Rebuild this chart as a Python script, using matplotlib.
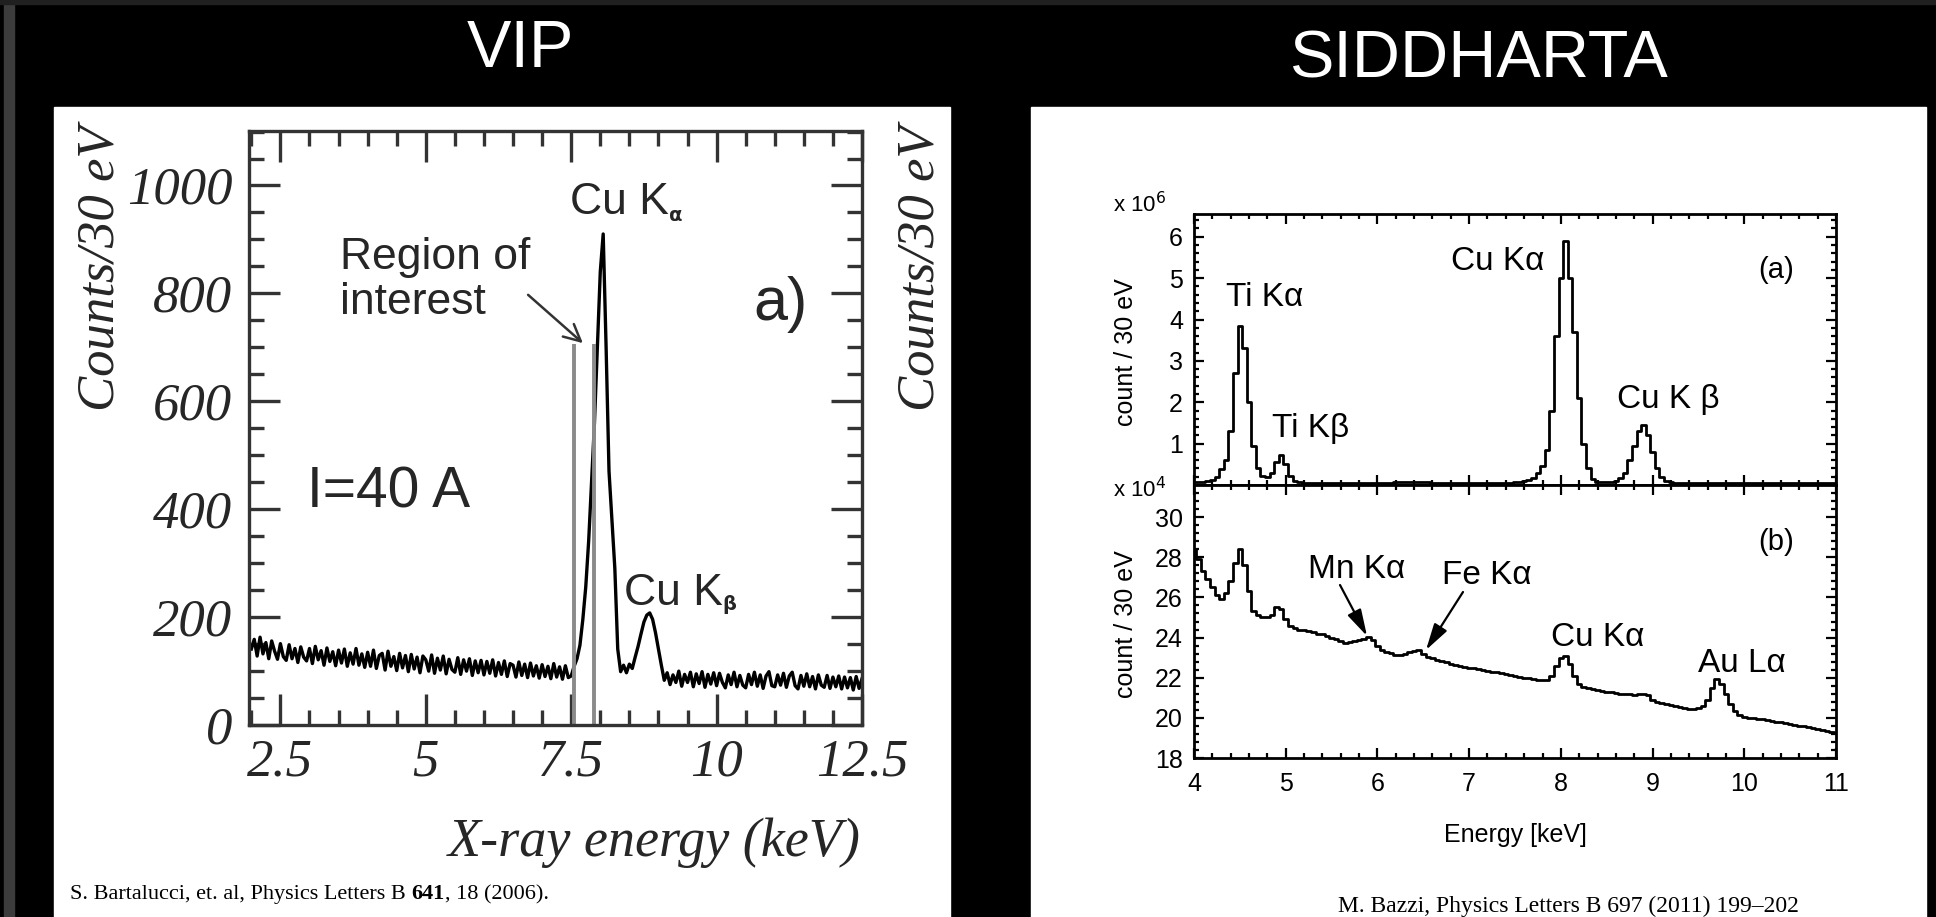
import numpy as np
import matplotlib.pyplot as plt
from matplotlib.patches import Rectangle
from matplotlib.ticker import MultipleLocator

W, H = 1936, 917

# VIP spectrum: counts / 30 eV, read every 0.05 keV starting at 2.0 keV
vip_e0, vip_de = 2.0, 0.05
vip_counts = [
    140, 158, 127, 162, 131, 152, 122, 155, 136, 121,
    150, 126, 119, 148, 122, 141, 115, 144, 125, 118,
    141, 113, 145, 120, 137, 110, 142, 117, 135, 109,
    138, 114, 140, 108, 133, 112, 141, 110, 131, 106,
    134, 108, 138, 104, 128, 132, 101, 136, 108, 126,
    100, 132, 105, 128, 98, 130, 103, 125, 96, 127,
    120, 99, 129, 95, 123, 101, 127, 94, 121, 102,
    97, 124, 93, 120, 99, 122, 91, 118, 96, 119,
    92, 117, 95, 120, 90, 115, 93, 118, 89, 113,
    110, 88, 116, 91, 112, 87, 114, 90, 109, 86,
    111, 89, 108, 85, 113, 88, 107, 84, 109, 87,
    90, 108, 122, 147, 195, 255, 340, 450, 560, 700,
    840, 910, 700, 470, 380, 290, 140, 98, 110, 96,
    112, 104, 125, 145, 168, 190, 203, 207, 195, 170,
    140, 110, 82, 96, 74, 92, 78, 99, 71, 93,
    78, 97, 70, 94, 76, 98, 69, 93, 75, 96,
    72, 95, 78, 68, 92, 74, 97, 70, 91, 73,
    68, 93, 74, 97, 71, 92, 67, 90, 98, 72,
    70, 92, 73, 95, 69, 90, 97, 72, 66, 91,
    71, 94, 70, 89, 66, 92, 73, 69, 91, 67,
    88, 70, 90, 66, 88, 68, 87, 64, 89, 67, 85,
]
vip_xticks = [2.5, 5, 7.5, 10, 12.5]
vip_xlabels = ['2.5', '5', '7.5', '10', '12.5']
vip_yticks = [0, 200, 400, 600, 800, 1000]
roi_edges = [7.54, 7.90]
roi_top = 705

# SIDDHARTA spectra, read every 0.05 keV starting at 4.0 keV
sid_e0, sid_de = 4.0, 0.05
sid_a = [  # x 10^6
    0.07, 0.07, 0.08, 0.09, 0.12, 0.20, 0.38, 0.60, 1.30, 2.70,
    3.85, 3.30, 2.00, 0.95, 0.40, 0.22, 0.19, 0.28, 0.55, 0.72,
    0.50, 0.22, 0.10, 0.07, 0.06, 0.06, 0.05, 0.05, 0.05, 0.05,
    0.05, 0.05, 0.05, 0.05, 0.05, 0.05, 0.05, 0.05, 0.05, 0.05,
    0.05, 0.05, 0.06, 0.06, 0.07, 0.07, 0.08, 0.08, 0.08, 0.07,
    0.07, 0.07, 0.06, 0.06, 0.05, 0.05, 0.05, 0.05, 0.05, 0.05,
    0.05, 0.05, 0.05, 0.05, 0.05, 0.05, 0.05, 0.06, 0.06, 0.06,
    0.07, 0.08, 0.10, 0.13, 0.18, 0.28, 0.45, 0.85, 1.80, 3.60,
    5.00, 5.90, 5.00, 3.70, 2.10, 1.00, 0.40, 0.15, 0.08, 0.07,
    0.07, 0.08, 0.10, 0.16, 0.30, 0.60, 0.95, 1.30, 1.45, 1.20,
    0.80, 0.42, 0.20, 0.10, 0.07, 0.06, 0.05, 0.05, 0.05, 0.05,
    0.05, 0.05, 0.05, 0.05, 0.05, 0.05, 0.05, 0.05, 0.05, 0.05,
    0.05, 0.05, 0.05, 0.05, 0.05, 0.05, 0.05, 0.05, 0.05, 0.05,
    0.05, 0.05, 0.05, 0.05, 0.05, 0.05, 0.05, 0.05, 0.05, 0.05,
    0.05,
]
sid_b = [  # x 10^4
    28.4, 27.9, 27.3, 26.9, 26.5, 26.1, 25.9, 26.2, 26.8, 27.7,
    28.4, 27.6, 26.3, 25.3, 25.1, 25.0, 25.0, 25.1, 25.5, 25.4,
    24.9, 24.6, 24.5, 24.4, 24.4, 24.35, 24.3, 24.2, 24.2, 24.1,
    24.0, 23.95, 23.85, 23.75, 23.8, 23.85, 23.9, 23.95, 24.05, 23.9,
    23.6, 23.4, 23.3, 23.25, 23.15, 23.15, 23.2, 23.3, 23.35, 23.4,
    23.2, 23.05, 23.0, 22.9, 22.85, 22.8, 22.7, 22.65, 22.6, 22.55,
    22.5, 22.5, 22.45, 22.4, 22.35, 22.3, 22.3, 22.25, 22.2, 22.15,
    22.1, 22.05, 22.0, 22.0, 21.95, 21.9, 21.9, 21.9, 22.1, 22.6,
    23.0, 23.1, 22.7, 22.1, 21.7, 21.55, 21.5, 21.45, 21.4, 21.35,
    21.3, 21.3, 21.25, 21.2, 21.2, 21.2, 21.15, 21.2, 21.2, 21.15,
    20.9, 20.8, 20.75, 20.7, 20.65, 20.6, 20.55, 20.5, 20.45, 20.45,
    20.5, 20.6, 20.9, 21.5, 21.95, 21.7, 21.2, 20.7, 20.35, 20.15,
    20.05, 20.0, 20.0, 19.95, 19.95, 19.9, 19.85, 19.8, 19.8, 19.75,
    19.7, 19.65, 19.6, 19.6, 19.55, 19.5, 19.45, 19.4, 19.35, 19.3,
    19.25,
]


def fx(x):
    return x / W


def fy(y):
    return 1 - y / H


SANS = 'Liberation Sans'
SERIF = 'Liberation Serif'
INK = '#262626'

fig = plt.figure(figsize=(W / 100, H / 100), dpi=100, facecolor='black')
renderer = fig.canvas.get_renderer()

# slide decoration: grey strips and the two white panels
fig.patches.append(Rectangle((fx(4), 0), 10 / W, 1, transform=fig.transFigure,
                             color='#3c3c3c', zorder=-2))
fig.patches.append(Rectangle((0, fy(4)), 1, 4 / H, transform=fig.transFigure,
                             color='#202020', zorder=-2))
fig.patches.append(Rectangle((fx(54), 0), (950 - 54) / W, (917 - 107) / H,
                             transform=fig.transFigure, color='white', zorder=-2))
fig.patches.append(Rectangle((fx(1031), 0), (1926 - 1031) / W, (917 - 107) / H,
                             transform=fig.transFigure, color='white', zorder=-2))

fig.text(fx(520), fy(67), 'VIP', color='white', family=SANS, size=48,
         ha='center', va='baseline')
fig.text(fx(1478), fy(78), 'SIDDHARTA', color='white', family=SANS, size=48,
         ha='center', va='baseline')

# ---------------- VIP ----------------
axL = fig.add_axes([fx(249), fy(724.5), (862 - 249) / W, (724.5 - 130.5) / H])
vip_e = vip_e0 + vip_de * np.arange(len(vip_counts))
axL.plot(vip_e, vip_counts, color='black', lw=2.4)
axL.vlines(roi_edges, 0, roi_top, color='#8a8a8a', lw=2.8)
axL.set_xlim(1.96, 12.5)
axL.set_ylim(0, 1102)
axL.set_xticks(vip_xticks, vip_xlabels, family=SERIF, style='italic', size=38, color=INK)
axL.set_yticks(vip_yticks, [str(v) for v in vip_yticks], family=SERIF, style='italic',
               size=38, color=INK)
axL.xaxis.set_minor_locator(MultipleLocator(0.5))
axL.yaxis.set_minor_locator(MultipleLocator(50))
axL.tick_params(which='both', direction='in', top=True, right=True, color='#333333', width=2.4)
axL.tick_params(which='major', length=22)
axL.tick_params(which='minor', length=11)
axL.tick_params(axis='x', pad=10)
axL.tick_params(axis='y', pad=12)
for sp in axL.spines.values():
    sp.set_color('#333333')
    sp.set_linewidth(2.4)

fig.text(fx(100), fy(268), 'Counts/30 eV', family=SERIF, style='italic', size=38,
         rotation=90, ha='center', va='center', color=INK)
fig.text(fx(921), fy(268), 'Counts/30 eV', family=SERIF, style='italic', size=38,
         rotation=90, ha='center', va='center', color=INK)
fig.text(fx(861), fy(843), 'X-ray energy (keV)', family=SERIF, style='italic', size=39,
         ha='right', va='center', color=INK)


def label_with_sub(x, y, main, sub, sub_drop):
    t = fig.text(fx(x), fy(y), main, family=SANS, size=32, ha='left', va='baseline', color=INK)
    x1 = t.get_window_extent(renderer).x1
    fig.text(x1 / W, fy(y + sub_drop), sub, family='DejaVu Sans', size=14, weight='bold',
             ha='left', va='baseline', color=INK)


label_with_sub(570, 214, 'Cu K', 'α', 7)
label_with_sub(624, 605, 'Cu K', 'β', 5)
fig.text(fx(340), fy(280), 'Region of\ninterest', family=SANS, size=32, ha='left', va='center',
         color=INK, linespacing=1.15)
fig.text(fx(780), fy(305), 'a)', family=SANS, size=44, ha='center', va='center', color=INK)
fig.text(fx(307), fy(492), 'I=40 A', family=SANS, size=41, ha='left', va='center', color=INK)
axL.annotate('', xy=(585, H - 345), xycoords='figure pixels',
             xytext=(526, H - 293), textcoords='figure pixels',
             arrowprops=dict(arrowstyle='->', lw=1.8, color='#333333', mutation_scale=30))

# ---------------- SIDDHARTA ----------------
sid_e = sid_e0 + sid_de * np.arange(len(sid_a))
axA = fig.add_axes([fx(1194), fy(485), (1836 - 1194) / W, (485 - 214) / H])
axB = fig.add_axes([fx(1194), fy(758), (1836 - 1194) / W, (758 - 485) / H])
axA.plot(sid_e, sid_a, color='black', lw=2, drawstyle='steps-mid')
axB.plot(sid_e, sid_b, color='black', lw=2, drawstyle='steps-mid')
axA.set_ylim(0, 6.55)
axB.set_ylim(18, 31.6)
axA.set_yticks([1, 2, 3, 4, 5, 6])
axB.set_yticks([18, 20, 22, 24, 26, 28, 30])
axA.yaxis.set_minor_locator(MultipleLocator(0.2))
axB.yaxis.set_minor_locator(MultipleLocator(0.4))
for ax in (axA, axB):
    ax.set_xlim(4, 11)
    ax.xaxis.set_major_locator(MultipleLocator(1))
    ax.xaxis.set_minor_locator(MultipleLocator(0.2))
    ax.tick_params(which='both', direction='in', top=True, right=True, width=1.6,
                   labelsize=18, pad=8)
    ax.tick_params(which='major', length=7)
    ax.tick_params(which='minor', length=3.5)
    for lbl in ax.get_xticklabels() + ax.get_yticklabels():
        lbl.set_family(SANS)
    for sp in ax.spines.values():
        sp.set_linewidth(2)
axA.tick_params(axis='x', labelbottom=False)
axB.tick_params(axis='x', pad=10)

fig.text(fx(1113), fy(212), r'x 10$^{6}$', family=SANS, size=16, ha='left', va='baseline')
fig.text(fx(1113), fy(497), r'x 10$^{4}$', family=SANS, size=16, ha='left', va='baseline')
fig.text(fx(1126), fy(352), 'count / 30 eV', family=SANS, size=18, rotation=90,
         ha='center', va='center')
fig.text(fx(1126), fy(624), 'count / 30 eV', family=SANS, size=18, rotation=90,
         ha='center', va='center')
fig.text(fx(1515), fy(835), 'Energy [keV]', family=SANS, size=18, ha='center', va='center')

fig.text(fx(1265), fy(298), 'Ti Kα', family=SANS, size=24, ha='center', va='center')
fig.text(fx(1311), fy(428), 'Ti Kβ', family=SANS, size=24, ha='center', va='center')
fig.text(fx(1498), fy(261), 'Cu Kα', family=SANS, size=24, ha='center', va='center')
fig.text(fx(1668), fy(400), 'Cu K β', family=SANS, size=24, ha='center', va='center')
fig.text(fx(1776), fy(270), '(a)', family=SANS, size=21, ha='center', va='center')
fig.text(fx(1776), fy(542), '(b)', family=SANS, size=21, ha='center', va='center')
fig.text(fx(1357), fy(570), 'Mn Kα', family=SANS, size=24, ha='center', va='center')
fig.text(fx(1487), fy(576), 'Fe Kα', family=SANS, size=24, ha='center', va='center')
fig.text(fx(1598), fy(638), 'Cu Kα', family=SANS, size=24, ha='center', va='center')
fig.text(fx(1742), fy(663), 'Au Lα', family=SANS, size=24, ha='center', va='center')
arrow_kw = dict(arrowstyle='-|>,head_width=0.25,head_length=0.9', lw=1.6, color='black',
                mutation_scale=18, shrinkA=0, shrinkB=0)
axB.annotate('', xy=(1367, H - 636), xycoords='figure pixels',
             xytext=(1340, H - 585), textcoords='figure pixels', arrowprops=arrow_kw)
axB.annotate('', xy=(1426, H - 650), xycoords='figure pixels',
             xytext=(1463, H - 592), textcoords='figure pixels', arrowprops=arrow_kw)

# references, with the bold volume number placed after the plain part
t = fig.text(fx(70), fy(899), 'S. Bartalucci, et. al, Physics Letters B ', family=SERIF,
             size=16, ha='left', va='baseline')
x1 = t.get_window_extent(renderer).x1
t = fig.text(x1 / W, fy(899), '641', family=SERIF, weight='bold', size=16,
             ha='left', va='baseline')
x1 = t.get_window_extent(renderer).x1
fig.text(x1 / W, fy(899), ', 18 (2006).', family=SERIF, size=16, ha='left', va='baseline')
fig.text(fx(1338), fy(912), 'M. Bazzi, Physics Letters B 697 (2011) 199–202', family=SERIF,
         size=17, ha='left', va='baseline')

fig.savefig('out.png', dpi=100, facecolor='black')
